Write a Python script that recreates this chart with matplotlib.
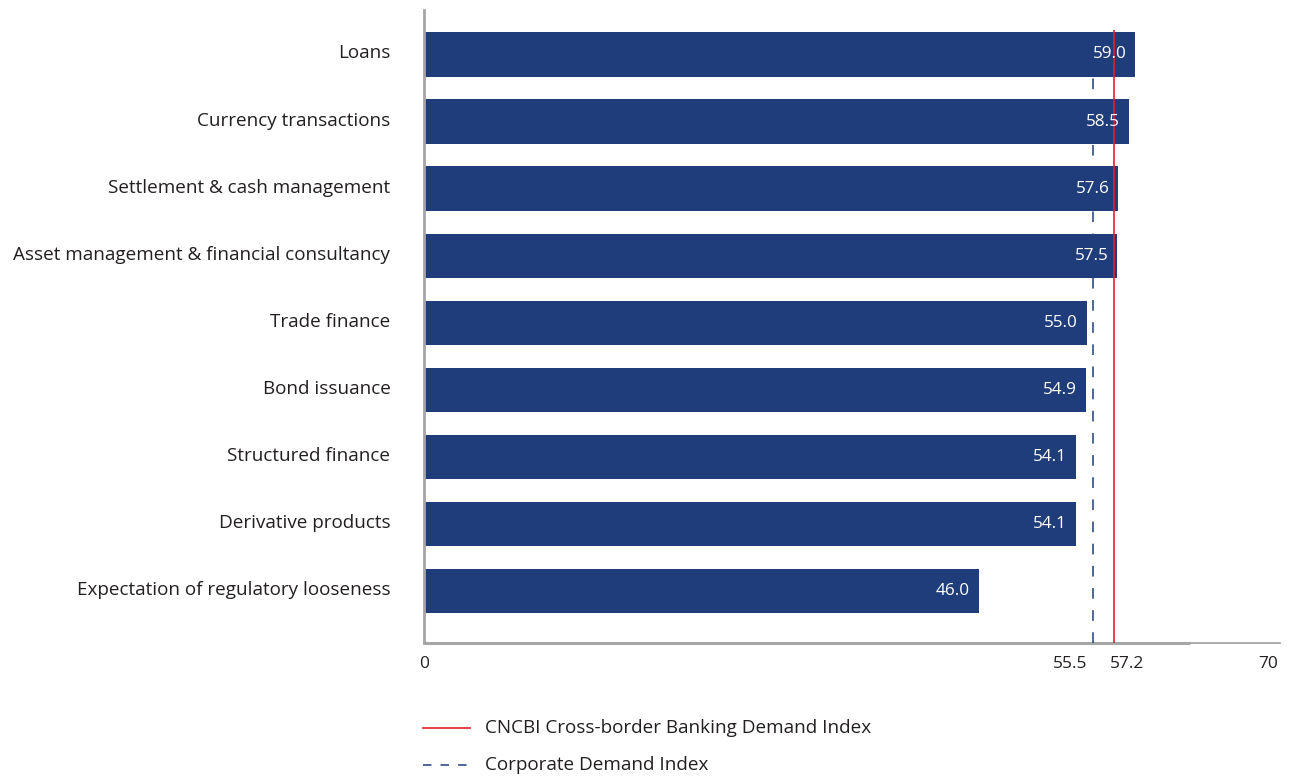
import matplotlib
matplotlib.use('Agg')
import matplotlib.pyplot as plt
from matplotlib.lines import Line2D
from matplotlib.transforms import ScaledTranslation

plt.rcParams['font.family'] = ['Open Sans', 'DejaVu Sans']

categories = [
    'Loans',
    'Currency transactions',
    'Settlement & cash management',
    'Asset management & financial consultancy',
    'Trade finance',
    'Bond issuance',
    'Structured finance',
    'Derivative products',
    'Expectation of regulatory looseness',
]
values = [59.0, 58.5, 57.6, 57.5, 55.0, 54.9, 54.1, 54.1, 46.0]

cncbi_index = 57.2
corporate_index = 55.5
tick_values = [0, corporate_index, cncbi_index, 70]
tick_labels = ['0', '55.5', '57.2', '70']

legend_labels = ['CNCBI Cross-border Banking Demand Index', 'Corporate Demand Index']

bar_color = '#1f3d7a'
red = '#e0202a'
axis_gray = '#a6a6a6'
text_color = '#231f20'
dash_style = (0, (7, 7.5))

fig = plt.figure(figsize=(12.92, 7.78), dpi=100)
ax = fig.add_axes([0.328, 0.1735, 0.6627, 0.8135])

pos = list(range(len(categories)))
ax.barh(pos, values, height=0.66, color=bar_color, zorder=2)

for p, v in zip(pos, values):
    ax.text(v - 0.75, p, f'{v:.1f}', color='white', ha='right', va='center',
            fontsize=12.3, zorder=4)

# reference lines for the two indices
ax.vlines(corporate_index, 8.77, -0.37, colors=bar_color, linewidth=1.1,
          linestyles=dash_style, zorder=3)
ax.vlines(cncbi_index, 8.77, -0.37, colors=red, linewidth=1.2, zorder=3)

ax.set_xlim(0, 71)
ax.set_ylim(8.77, -0.66)
ax.set_yticks(pos)
ax.set_yticklabels(categories, fontsize=13.6, color=text_color)
ax.set_xticks(tick_values)
ax.set_xticklabels(tick_labels, fontsize=12.5, color=text_color)
ax.tick_params(axis='both', length=0)
ax.tick_params(axis='y', pad=24)
ax.tick_params(axis='x', pad=9)

# category names sit a touch above the bar centres
for lab in ax.get_yticklabels():
    lab.set_transform(lab.get_transform() +
                      ScaledTranslation(0, 0.03, fig.dpi_scale_trans))

# 55.5 and 57.2 sit close together, so push them apart
xlabels = ax.get_xticklabels()
xlabels[1].set_ha('right')
xlabels[1].set_transform(xlabels[1].get_transform() +
                         ScaledTranslation(-0.06, 0, fig.dpi_scale_trans))
xlabels[2].set_ha('left')
xlabels[2].set_transform(xlabels[2].get_transform() +
                         ScaledTranslation(-0.04, 0, fig.dpi_scale_trans))

for side in ['top', 'right']:
    ax.spines[side].set_visible(False)
ax.spines['left'].set_color(axis_gray)
ax.spines['left'].set_linewidth(2)
ax.spines['bottom'].set_color(axis_gray)
ax.spines['bottom'].set_linewidth(1.3)
ax.plot([0, 63.5], [8.77, 8.77], color=axis_gray, linewidth=2.2,
        solid_capstyle='butt', clip_on=False, zorder=1)

# legend below the axis
fig.add_artist(Line2D([0.3274, 0.3638], [0.0643, 0.0643], color=red, linewidth=1.2))
fig.add_artist(Line2D([0.3274, 0.3638], [0.0167, 0.0167], color=bar_color,
                      linewidth=1.1, linestyle=(0, (5.5, 6))))
fig.text(0.3754, 0.0643, legend_labels[0], fontsize=13.6, color=text_color, va='center')
fig.text(0.3754, 0.0167, legend_labels[1], fontsize=13.6, color=text_color, va='center')

fig.savefig('out.png', dpi=100)
